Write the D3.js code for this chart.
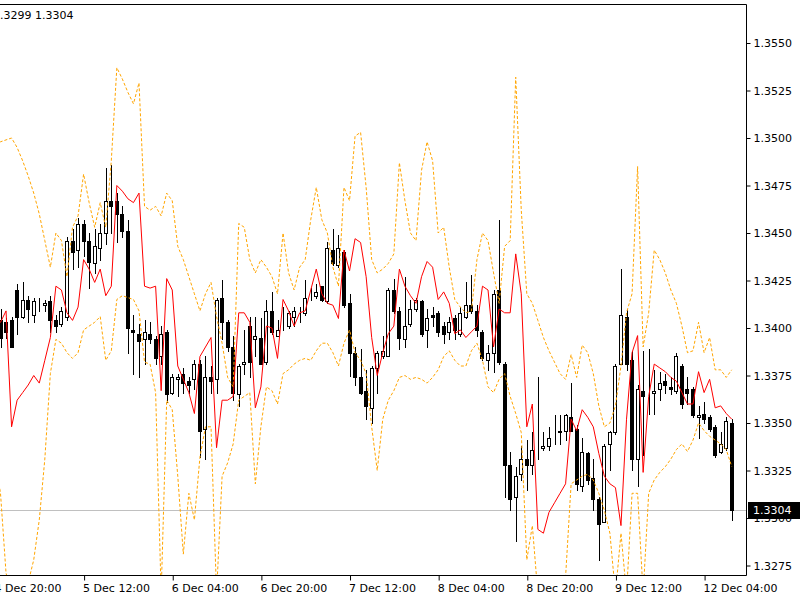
<!DOCTYPE html>
<html>
<head>
<meta charset="utf-8">
<script src="https://cdn.jsdelivr.net/npm/d3@7"></script>
<style>
  html, body { margin: 0; padding: 0; background: #fff; }
  svg { display: block; font-family: "DejaVu Sans", sans-serif; font-size: 11px; }
</style>
</head>
<body>
<div id="chart"></div>
<script>
/* EURUSD H1, one value per bar, bar 0 = 4 Dec 20:00 */
const opens = [
  1.3398, 1.3404, 1.3403, 1.3404, 1.3420, 1.3406, 1.3415, 1.3407, 1.3412, 1.3412,
  1.3414, 1.3404, 1.3402, 1.3406, 1.3446, 1.3441, 1.3455, 1.3446, 1.3434, 1.3442,
  1.3450, 1.3467, 1.3467, 1.3460, 1.3451, 1.3399, 1.3397, 1.3394, 1.3397, 1.3394,
  1.3385, 1.3398, 1.3366, 1.3373, 1.3376, 1.3372, 1.3373, 1.3381, 1.3347, 1.3374,
  1.3373, 1.3416, 1.3403, 1.3390, 1.3365, 1.3381, 1.3401, 1.3394, 1.3395, 1.3382,
  1.3409, 1.3396, 1.3401, 1.3401, 1.3406, 1.3409, 1.3408, 1.3418, 1.3417, 1.3422,
  1.3414, 1.3441, 1.3433, 1.3440, 1.3413, 1.3387, 1.3374, 1.3367, 1.3358, 1.3379,
  1.3385, 1.3385, 1.3420, 1.3409, 1.3394, 1.3402, 1.3410, 1.3414, 1.3399, 1.3407,
  1.3408, 1.3401, 1.3398, 1.3405, 1.3397, 1.3406, 1.3412, 1.3409, 1.3398, 1.3383,
  1.3387, 1.3420, 1.3381, 1.3328, 1.3311, 1.3323, 1.3331, 1.3328, 1.3337, 1.3337,
  1.3338, 1.3344, 1.3345, 1.3346, 1.3353, 1.3347, 1.3317, 1.3334, 1.3321, 1.3310,
  1.3298, 1.3339, 1.3345, 1.3381, 1.3406, 1.3383, 1.3331, 1.3367, 1.3367, 1.3366,
  1.3368, 1.3372, 1.3369, 1.3367, 1.3380, 1.3368, 1.3368, 1.3353, 1.3355, 1.3353,
  1.3348, 1.3335, 1.3337, 1.3350
];
const highs = [
  1.3404, 1.3410, 1.3405, 1.3406, 1.3423, 1.3424, 1.3417, 1.3416, 1.3416, 1.3415,
  1.3417, 1.3407, 1.3411, 1.3448, 1.3452, 1.3458, 1.3457, 1.3450, 1.3452, 1.3455,
  1.3484, 1.3486, 1.3471, 1.3464, 1.3457, 1.3407, 1.3402, 1.3404, 1.3403, 1.3396,
  1.3401, 1.3399, 1.3376, 1.3376, 1.3379, 1.3374, 1.3383, 1.3383, 1.3385, 1.3380,
  1.3416, 1.3425, 1.3404, 1.3396, 1.3381, 1.3399, 1.3406, 1.3406, 1.3405, 1.3415,
  1.3419, 1.3404, 1.3411, 1.3409, 1.3411, 1.3411, 1.3425, 1.3421, 1.3423, 1.3422,
  1.3445, 1.3452, 1.3449, 1.3441, 1.3418, 1.3390, 1.3389, 1.3378, 1.3380, 1.3388,
  1.3396, 1.3421, 1.3426, 1.3411, 1.3427, 1.3415, 1.3416, 1.3415, 1.3410, 1.3411,
  1.3409, 1.3403, 1.3406, 1.3407, 1.3411, 1.3424, 1.3428, 1.3412, 1.3399, 1.3391,
  1.3420, 1.3457, 1.3382, 1.3335, 1.3327, 1.3338, 1.3341, 1.3345, 1.3374, 1.3345,
  1.3348, 1.3354, 1.3354, 1.3355, 1.3371, 1.3349, 1.3342, 1.3335, 1.3331, 1.3311,
  1.3339, 1.3346, 1.3381, 1.3431, 1.3410, 1.3388, 1.3370, 1.3388, 1.3389, 1.3378,
  1.3377, 1.3376, 1.3374, 1.3387, 1.3381, 1.3374, 1.3369, 1.3359, 1.3361, 1.3354,
  1.3349, 1.3345, 1.3353, 1.3352
];
const lows = [
  1.3392, 1.3390, 1.3395, 1.3390, 1.3397, 1.3405, 1.3403, 1.3403, 1.3409, 1.3409,
  1.3398, 1.3398, 1.3401, 1.3404, 1.3431, 1.3432, 1.3438, 1.3421, 1.3429, 1.3436,
  1.3444, 1.3450, 1.3445, 1.3448, 1.3387, 1.3376, 1.3374, 1.3381, 1.3392, 1.3381,
  1.3381, 1.3361, 1.3365, 1.3364, 1.3366, 1.3366, 1.3368, 1.3332, 1.3331, 1.3366,
  1.3366, 1.3394, 1.3388, 1.3362, 1.3359, 1.3376, 1.3374, 1.3385, 1.3381, 1.3381,
  1.3397, 1.3396, 1.3399, 1.3400, 1.3401, 1.3403, 1.3407, 1.3415, 1.3416, 1.3414,
  1.3413, 1.3433, 1.3432, 1.3411, 1.3375, 1.3370, 1.3365, 1.3352, 1.3350, 1.3366,
  1.3384, 1.3385, 1.3408, 1.3389, 1.3390, 1.3401, 1.3409, 1.3396, 1.3390, 1.3401,
  1.3396, 1.3392, 1.3394, 1.3394, 1.3396, 1.3405, 1.3408, 1.3396, 1.3383, 1.3378,
  1.3377, 1.3381, 1.3311, 1.3304, 1.3288, 1.3320, 1.3315, 1.3323, 1.3331, 1.3336,
  1.3336, 1.3339, 1.3339, 1.3341, 1.3346, 1.3315, 1.3314, 1.3318, 1.3304, 1.3278,
  1.3298, 1.3325, 1.3344, 1.3381, 1.3378, 1.3325, 1.3317, 1.3333, 1.3355, 1.3355,
  1.3362, 1.3366, 1.3365, 1.3366, 1.3358, 1.3360, 1.3353, 1.3342, 1.3350, 1.3346,
  1.3332, 1.3334, 1.3336, 1.3299
];
const closes = [
  1.3400, 1.3395, 1.3398, 1.3390, 1.3406, 1.3415, 1.3410, 1.3414, 1.3412, 1.3413,
  1.3404, 1.3401, 1.3409, 1.3446, 1.3440, 1.3455, 1.3446, 1.3435, 1.3443, 1.3450,
  1.3467, 1.3464, 1.3460, 1.3451, 1.3400, 1.3398, 1.3393, 1.3398, 1.3394, 1.3384,
  1.3397, 1.3365, 1.3374, 1.3374, 1.3371, 1.3370, 1.3381, 1.3346, 1.3374, 1.3372,
  1.3415, 1.3403, 1.3390, 1.3366, 1.3380, 1.3382, 1.3382, 1.3396, 1.3381, 1.3409,
  1.3398, 1.3399, 1.3401, 1.3408, 1.3409, 1.3409, 1.3416, 1.3418, 1.3419, 1.3415,
  1.3442, 1.3434, 1.3442, 1.3412, 1.3387, 1.3374, 1.3366, 1.3359, 1.3379, 1.3387,
  1.3388, 1.3420, 1.3409, 1.3395, 1.3401, 1.3410, 1.3415, 1.3397, 1.3405, 1.3406,
  1.3398, 1.3397, 1.3403, 1.3399, 1.3408, 1.3412, 1.3409, 1.3399, 1.3384, 1.3387,
  1.3418, 1.3382, 1.3328, 1.3310, 1.3322, 1.3331, 1.3328, 1.3336, 1.3337, 1.3338,
  1.3342, 1.3344, 1.3346, 1.3354, 1.3346, 1.3318, 1.3335, 1.3320, 1.3310, 1.3297,
  1.3338, 1.3345, 1.3380, 1.3407, 1.3381, 1.3331, 1.3368, 1.3364, 1.3367, 1.3367,
  1.3371, 1.3370, 1.3368, 1.3385, 1.3360, 1.3366, 1.3354, 1.3354, 1.3352, 1.3347,
  1.3333, 1.3339, 1.3351, 1.3304
];

/* red indicator line */
const redLine = [
  1.3401, 1.3403, 1.3409, 1.3348, 1.3362, 1.3366, 1.3370, 1.3375, 1.3371, 1.3383,
  1.3395, 1.3422, 1.3420, 1.3408, 1.3404, 1.3411, 1.3436, 1.3431, 1.3424, 1.3431,
  1.3417, 1.3422, 1.3475, 1.3472, 1.3468, 1.3466, 1.3471, 1.3422, 1.3421, 1.3422,
  1.3367, 1.3426, 1.3420, 1.3380, 1.3373, 1.3366, 1.3355, 1.3385, 1.3390, 1.3395,
  1.3337, 1.3362, 1.3362, 1.3364, 1.3408, 1.3408, 1.3403, 1.3358, 1.3369, 1.3401,
  1.3400, 1.3384, 1.3415, 1.3409, 1.3401, 1.3408, 1.3409, 1.3420, 1.3431, 1.3418,
  1.3413, 1.3412, 1.3405, 1.3441, 1.3430, 1.3447, 1.3445, 1.3427, 1.3395, 1.3375,
  1.3387, 1.3397, 1.3401, 1.3431, 1.3422, 1.3417, 1.3413, 1.3427, 1.3435, 1.3432,
  1.3415, 1.3419, 1.3413, 1.3397, 1.3399, 1.3395, 1.3398, 1.3401, 1.3422, 1.3420,
  1.3390, 1.3410, 1.3408, 1.3408, 1.3439, 1.3418, 1.3348, 1.3360, 1.3294, 1.3292,
  1.3303, 1.3308, 1.3313, 1.3318, 1.3352, 1.3346, 1.3357, 1.3353, 1.3348, 1.3334,
  1.3322, 1.3318, 1.3316, 1.3296, 1.3352, 1.3387, 1.3396, 1.3324, 1.3364, 1.3381,
  1.3379, 1.3377, 1.3374, 1.3372, 1.3366, 1.3360, 1.3360, 1.3377, 1.3366, 1.3373,
  1.3358, 1.3359, 1.3355, 1.3352
];

/* orange dashed bands */
const upperBand = [
  1.3497, 1.3498, 1.3499, 1.3500, 1.3495, 1.3488, 1.3480, 1.3471, 1.3460, 1.3446,
  1.3432, 1.3450, 1.3446, 1.3427, 1.3453, 1.3459, 1.3481, 1.3466, 1.3453, 1.3466,
  1.3453, 1.3488, 1.3537, 1.3531, 1.3524, 1.3518, 1.3529, 1.3464, 1.3462, 1.3464,
  1.3459, 1.3471, 1.3467, 1.3443, 1.3436, 1.3427, 1.3418, 1.3409, 1.3418, 1.3424,
  1.3406, 1.3392, 1.3374, 1.3369, 1.3455, 1.3453, 1.3436, 1.3429, 1.3436, 1.3432,
  1.3427, 1.3418, 1.3450, 1.3429, 1.3420, 1.3432, 1.3436, 1.3457, 1.3474, 1.3457,
  1.3450, 1.3432, 1.3422, 1.3474, 1.3467, 1.3501, 1.3503, 1.3474, 1.3436, 1.3429,
  1.3431, 1.3434, 1.3439, 1.3487, 1.3467, 1.3450, 1.3446, 1.3483, 1.3498, 1.3488,
  1.3450, 1.3453, 1.3432, 1.3415, 1.3411, 1.3408, 1.3409, 1.3436, 1.3450, 1.3446,
  1.3429, 1.3413, 1.3443, 1.3446, 1.3532, 1.3462, 1.3418, 1.3413, 1.3404, 1.3395,
  1.3388, 1.3382, 1.3376, 1.3373, 1.3386, 1.3374, 1.3391, 1.3387, 1.3376, 1.3359,
  1.3348, 1.3350, 1.3359, 1.3380, 1.3408, 1.3418, 1.3485, 1.3390, 1.3408, 1.3441,
  1.3436, 1.3429, 1.3420, 1.3413, 1.3401, 1.3387, 1.3388, 1.3403, 1.3387, 1.3395,
  1.3378, 1.3378, 1.3374, 1.3378
];
const lowerBand = [
  1.3331, 1.3313, 1.3271, 1.3260, 1.3252, 1.3257, 1.3266, 1.3278, 1.3299, 1.3331,
  1.3376, 1.3394, 1.3392, 1.3387, 1.3384, 1.3387, 1.3399, 1.3401, 1.3403, 1.3406,
  1.3383, 1.3388, 1.3415, 1.3417, 1.3416, 1.3415, 1.3409, 1.3382, 1.3381, 1.3366,
  1.3260, 1.3362, 1.3357, 1.3322, 1.3281, 1.3313, 1.3299, 1.3332, 1.3348, 1.3348,
  1.3260, 1.3322, 1.3329, 1.3339, 1.3362, 1.3364, 1.3366, 1.3318, 1.3348, 1.3369,
  1.3367, 1.3360, 1.3376, 1.3378, 1.3381, 1.3383, 1.3384, 1.3383, 1.3388, 1.3392,
  1.3392, 1.3387, 1.3380, 1.3392, 1.3399, 1.3387, 1.3383, 1.3376, 1.3348, 1.3325,
  1.3352, 1.3362, 1.3367, 1.3374, 1.3375, 1.3373, 1.3374, 1.3373, 1.3371, 1.3374,
  1.3378, 1.3385, 1.3388, 1.3383, 1.3380, 1.3380, 1.3388, 1.3392, 1.3383, 1.3369,
  1.3366, 1.3373, 1.3376, 1.3364, 1.3355, 1.3345, 1.3278, 1.3296, 1.3260, 1.3252,
  1.3252, 1.3252, 1.3254, 1.3269, 1.3318, 1.3320, 1.3322, 1.3323, 1.3320, 1.3313,
  1.3304, 1.3292, 1.3260, 1.3292, 1.3260, 1.3313, 1.3313, 1.3260, 1.3313, 1.3320,
  1.3324, 1.3327, 1.3331, 1.3336, 1.3339, 1.3335, 1.3341, 1.3350, 1.3346, 1.3343,
  1.3341, 1.3339, 1.3336, 1.3327
];

/* axes */
const priceTicks = [1.3275, 1.3300, 1.3325, 1.3350, 1.3375, 1.3400, 1.3425,
                    1.3450, 1.3475, 1.3500, 1.3525, 1.3550];
const timeTickBars = [0, 16, 32, 48, 64, 80, 96, 112, 128];
const timeTickLabels = ["4 Dec 20:00", "5 Dec 12:00", "6 Dec 04:00", "6 Dec 20:00",
  "7 Dec 12:00", "8 Dec 04:00", "8 Dec 20:00", "9 Dec 12:00", "12 Dec 04:00"];

const width = 800, height = 600;
const plotRight = 746, plotTop = 4, plotBottom = 575;
const n = closes.length;

// 5.54 px par barre, la barre 0 tombe juste avant le bord gauche
const x = d3.scaleLinear().domain([0, n - 1]).range([-5.04, -5.04 + 5.54 * (n - 1)]);
const y = d3.scaleLinear().domain([1.3275, 1.3550]).range([565.5, 43]);

const svg = d3.select("#chart").append("svg")
    .attr("width", width)
    .attr("height", height)
    .attr("viewBox", [0, 0, width, height]);

svg.append("defs").append("clipPath").attr("id", "plot-clip")
  .append("rect")
    .attr("x", 0).attr("y", plotTop)
    .attr("width", plotRight).attr("height", plotBottom - plotTop);

const plot = svg.append("g").attr("clip-path", "url(#plot-clip)");

const bars = d3.range(n).map(i => ({
  i, o: opens[i], h: highs[i], l: lows[i], c: closes[i]
}));

// bid line
const lastClose = closes[n - 1];
plot.append("line")
    .attr("x1", 0).attr("x2", plotRight)
    .attr("y1", Math.round(y(lastClose)) + 0.5)
    .attr("y2", Math.round(y(lastClose)) + 0.5)
    .attr("stroke", "#c0c0c0");

// candles
const candle = plot.append("g").selectAll("g")
  .data(bars)
  .join("g");

candle.append("line")
    .attr("x1", d => Math.round(x(d.i)) + 0.5)
    .attr("x2", d => Math.round(x(d.i)) + 0.5)
    .attr("y1", d => Math.round(y(d.h)))
    .attr("y2", d => Math.round(y(d.l)) + 1)
    .attr("stroke", "#000");

candle.append("rect")
    .attr("x", d => Math.round(x(d.i)) - 1.5)
    .attr("width", 3)
    .attr("y", d => Math.round(y(Math.max(d.o, d.c))) + 0.5)
    .attr("height", d => Math.max(0, Math.round(y(Math.min(d.o, d.c))) - Math.round(y(Math.max(d.o, d.c)))))
    .attr("fill", d => d.c >= d.o ? "#fff" : "#000")
    .attr("stroke", "#000");

// indicator lines
const line = d3.line()
    .x((d, i) => x(i))
    .y(d => y(d));

plot.append("path")
    .datum(upperBand)
    .attr("d", line)
    .attr("fill", "none")
    .attr("stroke", "#ffa500")
    .attr("stroke-dasharray", "3,2");

plot.append("path")
    .datum(lowerBand)
    .attr("d", line)
    .attr("fill", "none")
    .attr("stroke", "#ffa500")
    .attr("stroke-dasharray", "3,2");

plot.append("path")
    .datum(redLine)
    .attr("d", line)
    .attr("fill", "none")
    .attr("stroke", "#ff0000");

// frame
svg.append("path")
    .attr("d", `M0,${plotTop + 0.5}H${plotRight + 0.5}V${plotBottom + 0.5}H0`)
    .attr("fill", "none")
    .attr("stroke", "#000");

// price axis
const yAxis = svg.append("g")
    .attr("transform", `translate(${plotRight + 0.5},0)`)
    .call(d3.axisRight(y)
      .tickValues(priceTicks)
      .tickSize(4)
      .tickPadding(3)
      .tickFormat(d3.format(".4f")));
yAxis.select(".domain").remove();
yAxis.selectAll("text")
    .attr("font-family", "DejaVu Sans")
    .attr("font-size", 11)
    .attr("fill", "#000");

// time axis
const xAxis = svg.append("g")
    .attr("transform", `translate(0,${plotBottom + 0.5})`)
    .call(d3.axisBottom(x)
      .tickValues(timeTickBars)
      .tickSize(5)
      .tickFormat((d, i) => timeTickLabels[i]));
xAxis.select(".domain").remove();
xAxis.selectAll(".tick line").attr("transform", "translate(0.5,0)");
xAxis.selectAll("text")
    .attr("text-anchor", "start")
    .attr("x", -1)
    .attr("y", 9)
    .attr("font-family", "DejaVu Sans")
    .attr("font-size", 11)
    .attr("fill", "#000");

// current price label
const yb = Math.round(y(lastClose));
svg.append("rect")
    .attr("x", plotRight + 2).attr("y", yb - 8)
    .attr("width", width - plotRight - 2).attr("height", 17)
    .attr("fill", "#000");
svg.append("text")
    .attr("x", plotRight + 7).attr("y", yb + 4)
    .attr("fill", "#fff")
    .text(d3.format(".4f")(lastClose));

// header text, partly cut by the left edge
svg.append("text")
    .attr("x", -7).attr("y", 19)
    .attr("fill", "#000")
    .text(`${d3.format(".4f")(d3.min(lows.slice(-1)))} ${d3.format(".4f")(lastClose)}`);
</script>
</body>
</html>
